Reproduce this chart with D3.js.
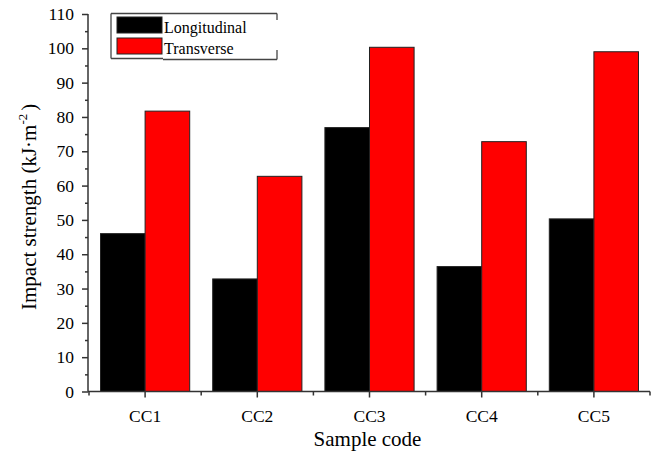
<!DOCTYPE html>
<html>
<head>
<meta charset="utf-8">
<script src="https://cdn.jsdelivr.net/npm/d3@7"></script>
</head>
<body style="margin:0">
<script>
// data
var categories = ['CC1', 'CC2', 'CC3', 'CC4', 'CC5'];
var series = ['Longitudinal', 'Transverse'];
var longitudinal = [46.0, 32.8, 76.9, 36.4, 50.3];
var transverse = [81.7, 62.7, 100.3, 72.8, 99.0];
var yTicks = [0, 10, 20, 30, 40, 50, 60, 70, 80, 90, 100, 110];

var colors = ['#000000', '#ff0000'];

var width = 654, height = 455;
var axisColor = '#333';
var font = '"Liberation Serif"';

var svg = d3.select('body').append('svg')
    .attr('width', width)
    .attr('height', height)
    .style('display', 'block');

var x = d3.scaleBand().domain(categories).range([89, 650]);
var xSub = d3.scaleBand().domain(series).range([11.5, x.bandwidth() - 11.5]);
var y = d3.scaleLinear().domain([0, 110]).range([391.5, 14]);

var rows = categories.map(function (c, i) {
    return { cat: c, values: [longitudinal[i], transverse[i]] };
});

//bars
var groups = svg.selectAll('g.cat')
    .data(rows)
    .enter()
    .append('g')
    .attr('class', 'cat')
    .attr('transform', function (d) { return 'translate(' + x(d.cat) + ',0)'; });

groups.selectAll('rect')
    .data(function (d) { return d.values.map(function (v, j) { return { s: series[j], v: v, j: j }; }); })
    .enter()
    .append('rect')
    .attr('x', function (d) { return xSub(d.s); })
    .attr('width', xSub.bandwidth())
    .attr('y', function (d) { return y(d.v); })
    .attr('height', function (d) { return y(0) - y(d.v); })
    .attr('fill', function (d) { return colors[d.j]; })
    .attr('stroke', '#222')
    .attr('stroke-width', 1);

//y axis
var yAxis = svg.append('g')
    .attr('transform', 'translate(88,0)')
    .call(d3.axisLeft(y).tickValues(yTicks).tickSize(6).tickPadding(8).tickSizeOuter(0));
svg.append('g')
    .attr('transform', 'translate(88,0)')
    .call(d3.axisLeft(y).tickValues(d3.range(5, 110, 10)).tickSize(3).tickFormat('').tickSizeOuter(0))
    .select('.domain').remove();

//x axis
var xAxis = svg.append('g')
    .attr('transform', 'translate(0,' + y(0) + ')')
    .call(d3.axisBottom(x).tickSize(6).tickPadding(12).tickSizeOuter(0));
var bounds = categories.map(function (c) { return x(c); }).concat([x.range()[1]]);
svg.append('g')
    .selectAll('line')
    .data(bounds)
    .enter()
    .append('line')
    .attr('x1', function (d) { return d; })
    .attr('x2', function (d) { return d; })
    .attr('y1', y(0))
    .attr('y2', y(0) + 4)
    .attr('stroke', axisColor)
    .attr('stroke-width', 1.5);

svg.selectAll('.domain, .tick line')
    .attr('stroke', axisColor)
    .attr('stroke-width', 1.5);
yAxis.selectAll('.domain').attr('d', 'M0,' + y(110) + 'V' + y(0));
xAxis.selectAll('.domain').attr('d', 'M88,0H' + x.range()[1]);

yAxis.attr('font-family', null).attr('font-size', null);
xAxis.attr('font-family', null).attr('font-size', null);
svg.selectAll('.tick text')
    .attr('fill', '#000')
    .style('font-size', '17.5px')
    .style('font-family', font);

//axis titles
svg.append('text')
    .attr('x', 367.5)
    .attr('y', 446)
    .attr('text-anchor', 'middle')
    .style('font-family', font)
    .style('font-size', '21px')
    .text('Sample code');

var yTitle = svg.append('text')
    .attr('transform', 'translate(36,310) rotate(-90)')
    .attr('text-anchor', 'start')
    .style('font-family', font)
    .style('font-size', '21px');
yTitle.append('tspan').text('Impact strength (kJ\u00b7m');
yTitle.append('tspan').attr('dy', -9).style('font-size', '13px').text('-2');
yTitle.append('tspan').attr('dy', 9).attr('dx', 3).text(')');

//legend
var legend = svg.append('g');
var lg = legend.selectAll('g')
    .data(series)
    .enter()
    .append('g')
    .attr('transform', function (d, i) { return 'translate(0,' + (i * 21) + ')'; });
lg.append('rect')
    .attr('x', 117)
    .attr('y', 17)
    .attr('width', 45)
    .attr('height', 16)
    .attr('fill', function (d, i) { return colors[i]; })
    .attr('stroke', '#222')
    .attr('stroke-width', 1);
lg.append('text')
    .attr('x', 164)
    .attr('y', 33)
    .style('font-family', font)
    .style('font-size', '16px')
    .text(function (d) { return d; });

var frame = [
    [111, 13.5, 277, 13.5],
    [111, 13.5, 111, 58.5],
    [111, 58.5, 163, 58.5],
    [163, 59.5, 277, 59.5],
    [277, 13.5, 277, 20],
    [277, 50, 277, 59.5]
];
legend.selectAll('line')
    .data(frame)
    .enter()
    .append('line')
    .attr('x1', function (d) { return d[0]; })
    .attr('y1', function (d) { return d[1]; })
    .attr('x2', function (d) { return d[2]; })
    .attr('y2', function (d) { return d[3]; })
    .attr('stroke', '#444')
    .attr('stroke-width', 1.3);
</script>
</body>
</html>
